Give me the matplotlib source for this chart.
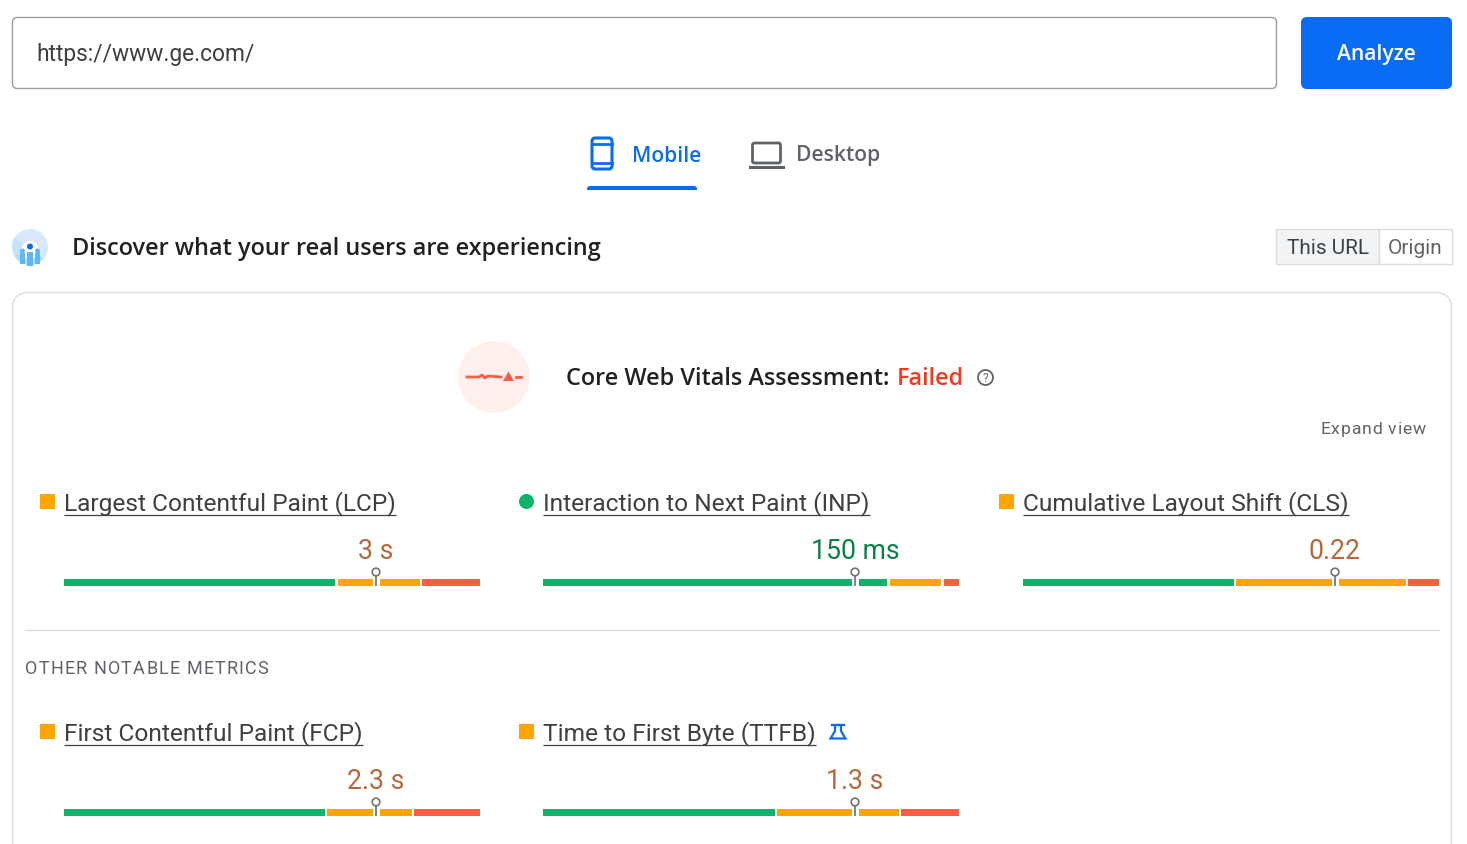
import matplotlib
matplotlib.use('Agg')
import matplotlib.pyplot as plt
from matplotlib.font_manager import FontProperties
from matplotlib.patches import FancyBboxPatch, Rectangle, Circle, Polygon, Wedge

# metric values (shares of good / needs improvement / poor)
metric_names = ['Largest Contentful Paint (LCP)', 'Interaction to Next Paint (INP)', 'Cumulative Layout Shift (CLS)',
                'First Contentful Paint (FCP)', 'Time to First Byte (TTFB)']
metric_values = ['3 s', '150 ms', '0.22', '2.3 s', '1.3 s']
metric_status = ['ni', 'good', 'ni', 'ni', 'ni']
good_share = [65.75, 83.3, 51.3, 63.3, 56.3]
ni_share = [20.4, 13.0, 41.3, 20.9, 29.8]
poor_share = [13.85, 3.7, 7.4, 15.8, 13.9]
p75_position = [75, 75, 75, 75, 75]

url_text = 'https://www.ge.com/'
tab_labels = ['Mobile', 'Desktop']
origin_labels = ['This URL', 'Origin']

GREEN = '#0cb46b'
ORANGE = '#ffa400'
RED = '#ff5c48'
BLUE = '#0a6cf5'
TEXT = '#212124'
GREY = '#5f6368'
BORDER = '#dadce0'
VALUE_COL = {'ni': '#b5683a', 'good': '#0a8043'}
UI_FONT = 'Open Sans'
METRIC_FONT = 'Roboto'

plt.rcParams['font.family'] = [METRIC_FONT, 'DejaVu Sans']

W, H = 1467, 844
fig = plt.figure(figsize=(W / 100, H / 100), dpi=100)
ax = fig.add_axes([0, 0, 1, 1])
ax.set_xlim(0, W)
ax.set_ylim(H, 0)
ax.axis('off')


def px(size):
    # font size given in pixels
    return size * 0.72


def rbox(x, y, w, h, r, fc='white', ec='none', lw=1, z=1):
    ax.add_patch(FancyBboxPatch((x + r, y + r), w - 2 * r, h - 2 * r, boxstyle=f'round,pad={r},rounding_size={r}',
                                fc=fc, ec=ec, lw=lw, zorder=z))


def underlined(x, y, s, size, color, family=METRIC_FONT):
    t = ax.text(x, y, s, fontsize=px(size), color=color, family=family, va='center', ha='left')
    bb = t.get_window_extent(fig.canvas.get_renderer())
    ax.plot([x, x + bb.width], [y + 11, y + 11], color=color, lw=0.9, solid_capstyle='butt')


def spaced(x, y, s, size, color, spacing, family=METRIC_FONT):
    # matplotlib has no letter spacing, so walk the string by its measured width
    r = fig.canvas.get_renderer()
    fp = FontProperties(family=family, size=px(size))
    for k, ch in enumerate(s):
        adv = r.get_text_width_height_descent(s[:k], fp, False)[0] if k else 0
        ax.text(x + adv + k * spacing, y, ch, fontsize=px(size), color=color, family=family,
                va='center_baseline', ha='left')


# url field and button
rbox(12.5, 17.5, 1264, 71, 5, ec='#9a9b9e', lw=1)
ax.text(36, 54.5, url_text, fontsize=px(22.8), color='#3c4043', va='center', family=METRIC_FONT)
rbox(1301, 17, 151, 72, 6, fc=BLUE)
ax.text(1376.5, 54.5, 'Analyze', fontsize=px(21), color='white', va='center', ha='center', family=UI_FONT, weight='semibold')

# device tabs
rbox(592, 138, 20, 31, 3, ec=BLUE, lw=2.2)
ax.plot([592, 612], [144, 144], color=BLUE, lw=2)
ax.plot([592, 612], [163, 163], color=BLUE, lw=2)
ax.text(632, 156, tab_labels[0], fontsize=px(21), color=BLUE, va='center', family=UI_FONT, weight='semibold')
rbox(587, 186, 110, 8, 3, fc=BLUE)
ax.add_patch(Rectangle((585, 190), 114, 6, fc='white', ec='none', zorder=2))
rbox(752.5, 143, 28, 20, 2, ec=GREY, lw=2)
ax.plot([750, 783], [166.5, 166.5], color=GREY, lw=2.2)
ax.text(796, 156, tab_labels[1], fontsize=px(21.2), color=GREY, va='center', family=UI_FONT, weight='semibold')

# field data header
ax.add_patch(Circle((30, 247), 18, fc='#d8e9fe', ec='none'))
ax.add_patch(Wedge((30, 247), 18, 40, 150, fc='#b9defd', ec='none'))
ax.add_patch(Wedge((30, 247), 18, 150, 210, fc='#c6e3fd', ec='none'))
ax.add_patch(Circle((30, 250), 9, fc='white', ec='none'))
for bx, by, bw, bh in [(20, 253, 5, 11), (27, 252, 6, 14), (35, 253, 5, 11)]:
    ax.add_patch(Rectangle((bx, by), bw, bh, fc='#5fb6f8', ec='none'))
ax.add_patch(Circle((22.5, 251), 2.5, fc='#5fb6f8', ec='none'))
ax.add_patch(Circle((37.5, 251), 2.5, fc='#5fb6f8', ec='none'))
ax.add_patch(Circle((30, 246.5), 3, fc=BLUE, ec='none'))
ax.text(72, 249, 'Discover what your real users are experiencing', fontsize=px(23.5), color=TEXT, va='center', family=UI_FONT, weight='semibold')

# this url / origin toggle
ax.add_patch(Rectangle((1276, 229), 103, 35, fc='#f1f3f4', ec=BORDER, lw=1))
ax.add_patch(Rectangle((1379, 229), 72.5, 35, fc='white', ec=BORDER, lw=1))
ax.text(1328, 248, origin_labels[0], fontsize=px(20.8), color='#3c4043', va='center', ha='center', family=METRIC_FONT)
ax.text(1415.5, 248, origin_labels[1], fontsize=px(20.8), color=GREY, va='center', ha='center', family=METRIC_FONT)

# main card, runs off the bottom of the page
rbox(12.5, 292.5, 1439, 600, 16, ec=BORDER, lw=1)

# assessment
ax.add_patch(Circle((494, 377), 36, fc='#fff0ee', ec='none'))
ax.plot([467, 479, 482, 485, 488, 501], [377, 377, 375, 378, 376, 377], color=RED, lw=2)
ax.add_patch(Polygon([[503, 381], [508.5, 371.5], [514, 381]], fc=RED, ec='none'))
ax.plot([516, 521], [377, 377], color=RED, lw=2)
ax.text(566, 379, 'Core Web Vitals Assessment:', fontsize=px(23.5), color=TEXT, va='center', family=UI_FONT, weight='semibold')
ax.text(897, 379, 'Failed', fontsize=px(23.5), color='#f33a1f', va='center', family=UI_FONT, weight='semibold')
ax.add_patch(Circle((985.5, 377.5), 7.5, fc='none', ec=GREY, lw=1.3))
ax.text(985.5, 378, '?', fontsize=px(12), color=GREY, va='center', ha='center', family=METRIC_FONT)
spaced(1320, 428, 'Expand view', 17.5, GREY, 0.9)

# divider and section title
ax.plot([25, 1439], [630, 630], color=BORDER, lw=1)
spaced(25, 667, 'OTHER NOTABLE METRICS', 18, GREY, 1.2)

# metric blocks
col_x = [64, 543, 1023, 64, 543]
row_y = [503, 503, 503, 733, 733]
BAR_W = 416
GAP = 2.5
for i, name in enumerate(metric_names):
    x0, y0 = col_x[i], row_y[i]
    if metric_status[i] == 'good':
        ax.add_patch(Circle((x0 - 16.5, y0 - 1.5), 7.5, fc=GREEN, ec='none'))
    else:
        ax.add_patch(Rectangle((x0 - 24, y0 - 9), 15, 15, fc=ORANGE, ec='none'))
    underlined(x0, y0 + 1, name, 24.5, '#3c4043')

    # stacked distribution bar
    left = x0
    shares = [good_share[i], ni_share[i], poor_share[i]]
    for j, (share, col) in enumerate(zip(shares, [GREEN, ORANGE, RED])):
        seg = share / 100 * BAR_W
        right_gap = GAP if j < 2 else 0
        ax.barh(y0 + 79.5, seg - right_gap, height=7, left=left, color=col, linewidth=0, zorder=2)
        left += seg

    # 75th percentile pin and value
    mx = x0 + p75_position[i] / 100 * BAR_W
    ax.add_patch(Rectangle((mx - 3.5, y0 + 74), 7, 12, fc='white', ec='none', zorder=3))
    ax.plot([mx, mx], [y0 + 73, y0 + 83], color='#80868b', lw=1.5, zorder=4, solid_capstyle='butt')
    ax.add_patch(Circle((mx, y0 + 69), 3.8, fc='white', ec='#6f7378', lw=1.2, zorder=5))
    ax.text(mx, y0 + 48.5, metric_values[i], fontsize=px(26.6), color=VALUE_COL[metric_status[i]],
            va='center', ha='center', family=METRIC_FONT)

# experimental flask next to TTFB
ax.plot([832, 844], [725, 725], color=BLUE, lw=1.6)
ax.add_patch(Polygon([[835, 725], [835, 731], [830.5, 738.5], [845.5, 738.5], [841, 731], [841, 725]],
                     fc='none', ec=BLUE, lw=1.6, joinstyle='miter'))

fig.savefig('out.png', dpi=100)
